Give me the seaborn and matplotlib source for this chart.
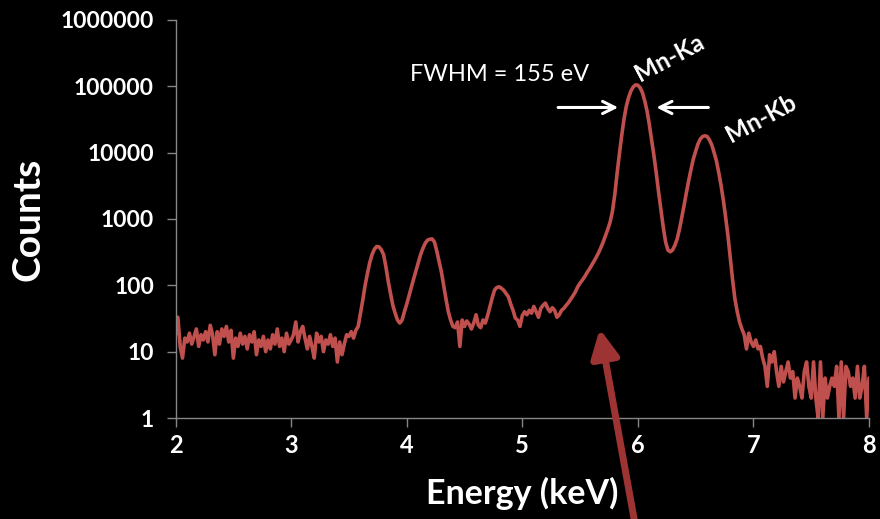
import numpy as np
import pandas as pd
import matplotlib
matplotlib.use("Agg")
import matplotlib.pyplot as plt
import seaborn as sns

# ---- data, one value every 0.02 keV from 2.00 to 8.00 keV ----
e_start = 2.0
e_step = 0.02
counts = [
    18, 33, 12, 8, 16, 14, 19, 13, 17, 22,            # 2.00-2.18
    12, 18, 15, 20, 14, 25, 18, 9, 20, 13,            # 2.20-2.38
    22, 17, 24, 14, 21, 8, 16, 12, 19, 13,            # 2.40-2.58
    17, 11, 18, 14, 20, 9, 15, 12, 17, 10,            # 2.60-2.78
    15, 11, 18, 13, 22, 12, 16, 10, 19, 13,           # 2.80-2.98
    15, 18, 28, 14, 20, 24, 16, 11, 17, 12,           # 3.00-3.18
    8, 19, 14, 17, 10, 15, 13, 18, 12, 16,            # 3.20-3.38
    7, 14, 9, 13, 18, 17, 20, 16, 21, 24,             # 3.40-3.58
    38, 60, 100, 150, 220, 290, 350, 385, 380, 345,   # 3.60-3.78
    290, 190, 115, 75, 50, 38, 30, 27, 30, 40,        # 3.80-3.98
    52, 70, 95, 125, 165, 220, 290, 360, 430, 480,    # 4.00-4.18
    495, 500, 450, 330, 230, 160, 100, 62, 40, 30,    # 4.20-4.38
    24, 23, 28, 12, 30, 24, 29, 26, 22, 27,           # 4.40-4.58
    36, 25, 23, 30, 27, 35, 48, 65, 85, 93,           # 4.60-4.78
    95, 90, 84, 75, 67, 52, 42, 32, 30, 24,           # 4.80-4.98
    35, 40, 36, 42, 38, 48, 40, 33, 45, 50,           # 5.00-5.18
    54, 45, 40, 46, 42, 33, 36, 42, 45, 50,           # 5.20-5.38
    55, 62, 70, 80, 95, 108, 120, 135, 155, 175,      # 5.40-5.58
    200, 230, 265, 310, 370, 450, 560, 700, 900, 1300,  # 5.60-5.78
    2300, 4800, 9500, 18000, 32000, 50000, 68000, 85000, 98000, 105000,  # 5.80-5.98
    104000, 95000, 80000, 60000, 42000, 26000, 15000, 8800, 4800, 2500,  # 6.00-6.18
    1350, 750, 450, 340, 320, 340, 400, 500, 700, 1050,                  # 6.20-6.38
    1600, 2500, 3800, 5600, 8000, 10500, 13500, 16000, 17500, 18000,     # 6.40-6.58
    17500, 15500, 13000, 10000, 7500, 5000, 3200, 1900, 1050, 550,       # 6.60-6.78
    260, 120, 62, 40, 28, 22, 18, 11, 19, 14,         # 6.80-6.98
    12, 15, 11, 12, 8, 6, 3, 9, 7, 10,                # 7.00-7.18
    5, 3, 6, 3.5, 5, 7, 4, 5, 2, 4,                   # 7.20-7.38
    3, 2, 5, 7, 3, 2, 7, 2, 1, 7,                     # 7.40-7.58
    1, 4, 2, 3, 4, 3, 6, 1, 7, 1,                     # 7.60-7.78
    6, 5, 3, 4, 2, 6, 2, 3, 6, 1,                     # 7.80-7.98
    4,                                                # 8.00
]
x_ticks = [2, 3, 4, 5, 6, 7, 8]
y_ticks = [1, 10, 100, 1000, 10000, 100000, 1000000]
y_tick_labels = ["1", "10", "100", "1000", "10000", "100000", "1000000"]

energy = np.round(e_start + e_step * np.arange(len(counts)), 2)
df = pd.DataFrame({"Energy": energy, "Counts": counts})

# ---- style ----
sns.set_theme(style="ticks")
plt.rcParams.update({
    "figure.facecolor": "black",
    "axes.facecolor": "black",
    "savefig.facecolor": "black",
    "axes.edgecolor": "#868686",
    "xtick.color": "#868686",
    "ytick.color": "#868686",
    "xtick.labelcolor": "white",
    "ytick.labelcolor": "white",
    "text.color": "white",
    "axes.labelcolor": "white",
})
plt.rcParams["font.family"] = ["Lato", "DejaVu Sans"]

fig = plt.figure(figsize=(8.8, 5.19), dpi=100)
ax = fig.add_axes([0.1995, 0.1946, 0.788, 0.7669])

sns.lineplot(data=df, x="Energy", y="Counts", ax=ax, color="#C0504D",
             linewidth=2.6, estimator=None)

ax.set_yscale("log")
ax.set_xlim(2, 8)
ax.set_ylim(1, 1e6)
ax.set_xticks(x_ticks)
ax.set_xticklabels([str(t) for t in x_ticks], fontsize=17, fontweight="bold")
ax.set_yticks(y_ticks)
ax.set_yticklabels(y_tick_labels, fontsize=16.5, fontweight="bold")
ax.yaxis.set_minor_locator(matplotlib.ticker.NullLocator())
ax.tick_params(axis="both", which="major", length=6.5, width=1, direction="out")
ax.tick_params(axis="y", pad=9)
ax.tick_params(axis="x", pad=5)

for s in ["top", "right"]:
    ax.spines[s].set_visible(False)
for s in ["left", "bottom"]:
    ax.spines[s].set_linewidth(1)
    ax.spines[s].set_color("#868686")

ax.set_xlabel("Energy (keV)", fontsize=24.5, fontweight="bold", labelpad=14)
ax.set_ylabel("Counts", fontsize=28, fontweight="bold", labelpad=11)

# ---- annotations ----
ax.text(4.03, 1.5e5, "FWHM = 155 eV", fontsize=17, color="white",
        ha="left", va="center")
ax.annotate("", xy=(5.83, 48000), xytext=(5.31, 48000),
            arrowprops=dict(arrowstyle="->", color="white", lw=2.2,
                            mutation_scale=22, shrinkA=0, shrinkB=0))
ax.annotate("", xy=(6.16, 48000), xytext=(6.61, 48000),
            arrowprops=dict(arrowstyle="->", color="white", lw=2.2,
                            mutation_scale=22, shrinkA=0, shrinkB=0))
ax.text(6.27, 2.7e5, "Mn-Ka", fontsize=17.5, fontweight="bold", color="white",
        rotation=28, ha="center", va="center", rotation_mode="anchor")
ax.text(7.07, 3.3e4, "Mn-Kb", fontsize=17.5, fontweight="bold", color="white",
        rotation=28, ha="center", va="center", rotation_mode="anchor")

ax.annotate("", xy=(5.67, 22), xycoords="data",
            xytext=(636 / 880, -0.02), textcoords="figure fraction",
            arrowprops=dict(arrowstyle="-|>", color="#9E3333", lw=5,
                            mutation_scale=42, shrinkA=0, shrinkB=0),
            annotation_clip=False)

fig.savefig("out.png", dpi=100, facecolor="black")
